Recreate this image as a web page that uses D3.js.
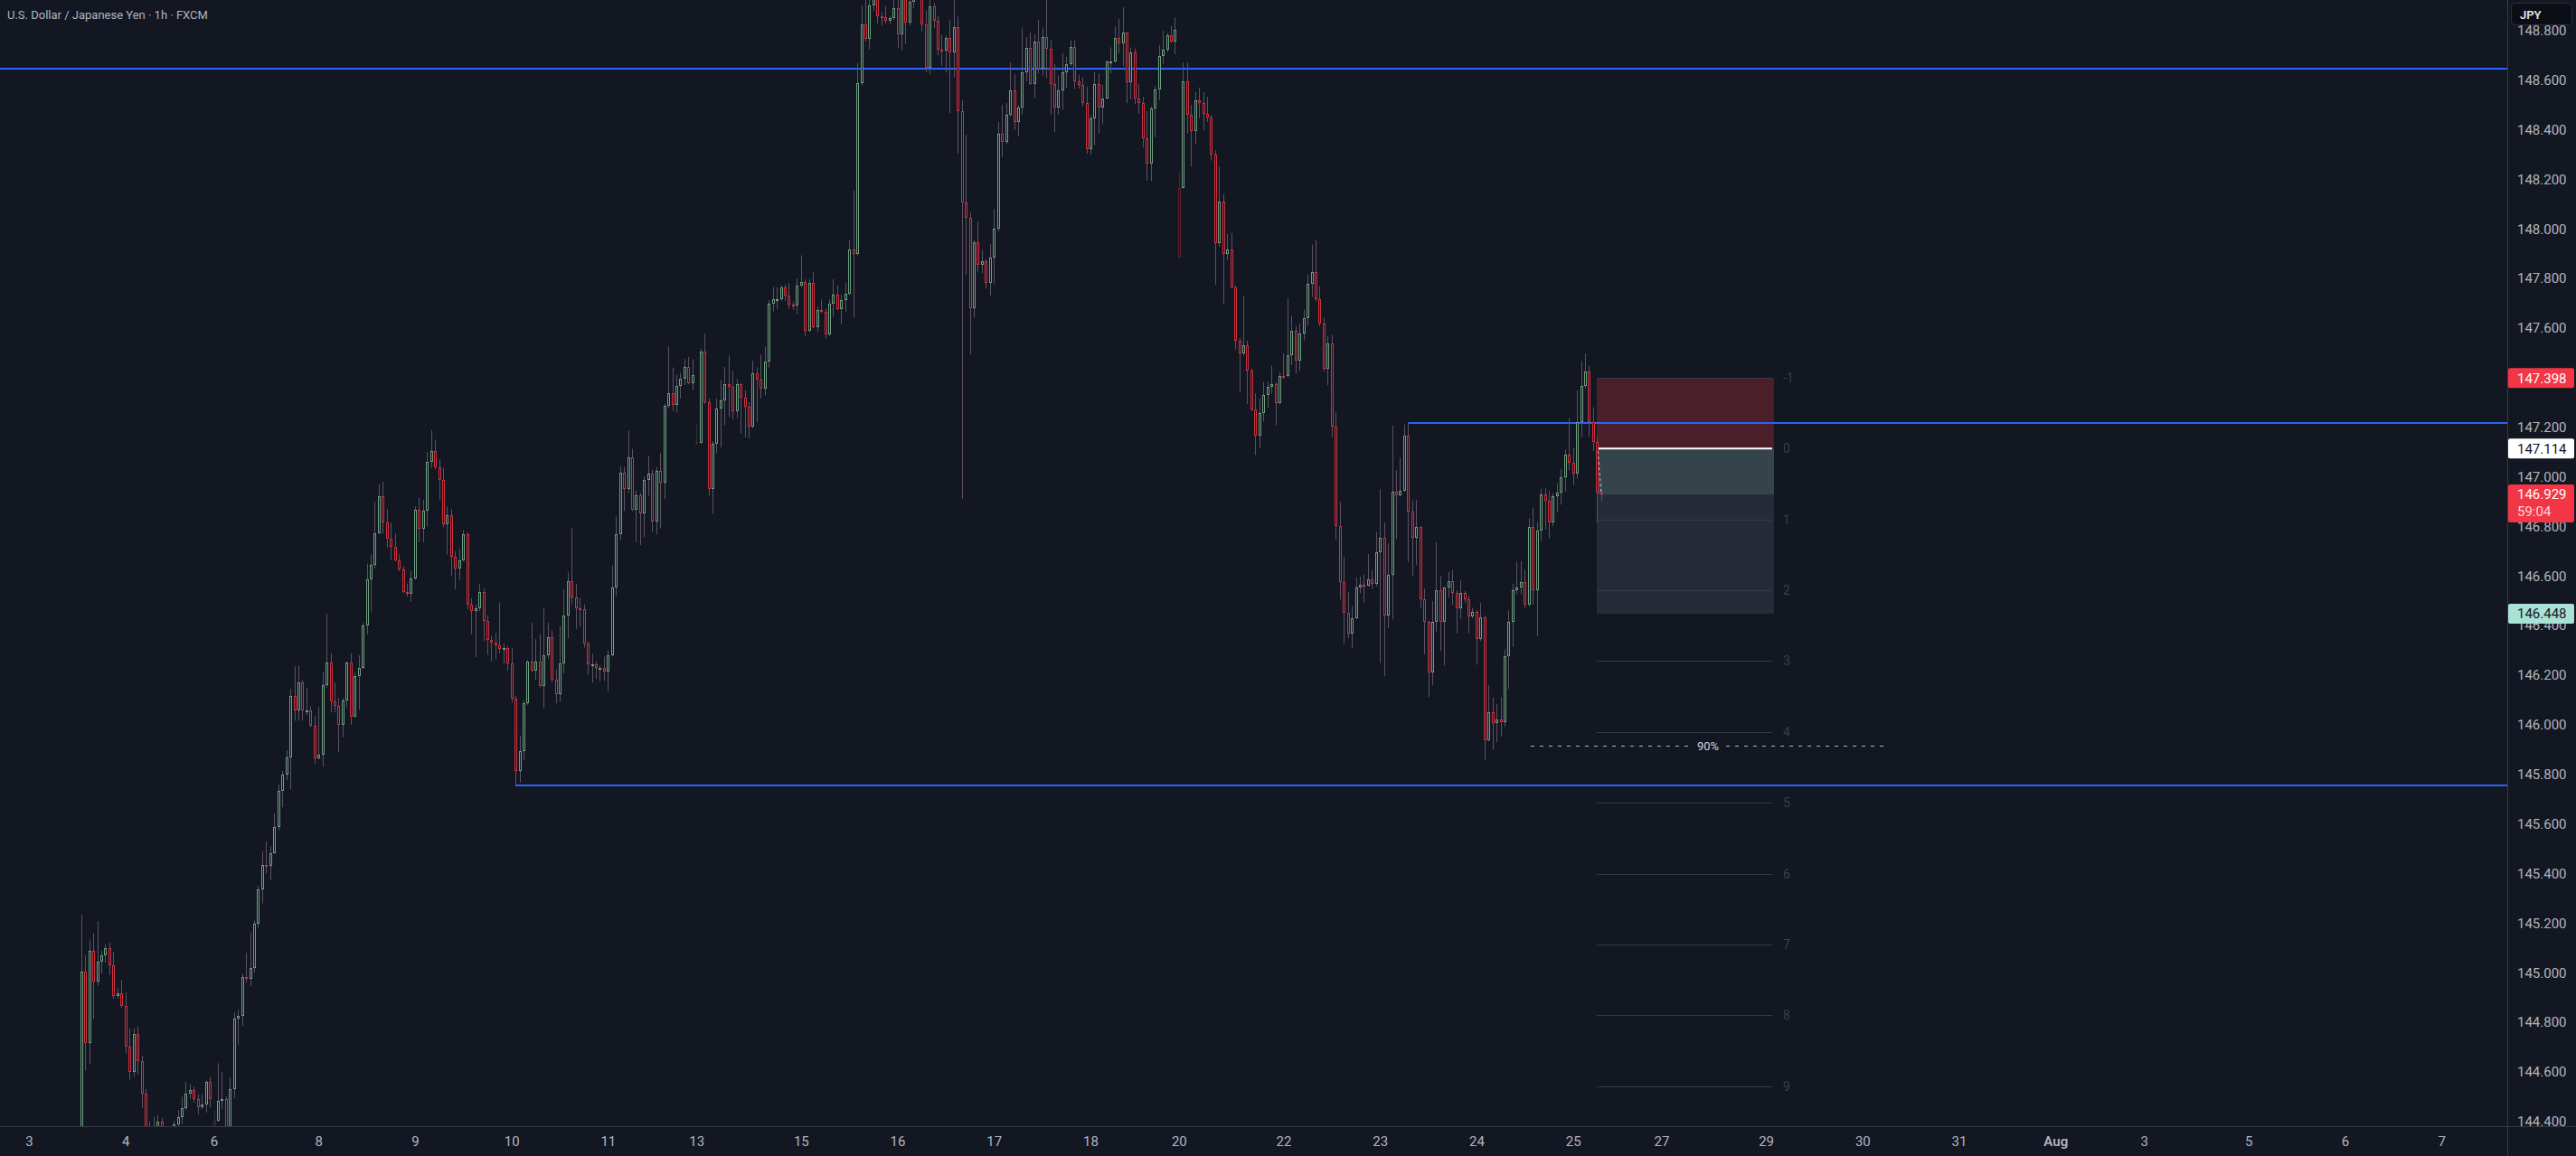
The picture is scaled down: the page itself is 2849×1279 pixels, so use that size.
<!DOCTYPE html>
<html>
<head>
<meta charset="utf-8">
<script src="https://cdn.jsdelivr.net/npm/d3@7"></script>
<style>
  html, body { margin: 0; padding: 0; background: #131722; overflow: hidden; }
  svg { display: block; }
  text { font-family: -apple-system, BlinkMacSystemFont, "Trebuchet MS", Roboto, Ubuntu, sans-serif; }
</style>
</head>
<body>
<div id="chart"></div>
<script>
// Hourly USDJPY candles [open, high, low, close], one array per trading day
const jul03 = [[144.28,145.233,144.20,145.006],[145.006,145.07,144.605,144.715],[144.715,145.134,144.631,145.088],[145.088,145.158,144.813,144.965],[144.965,145.208,144.947,145.046],[145.046,145.088,144.997,145.07],[145.07,145.115,145.04,145.10],[145.10,145.12,144.99,145.03],[145.03,145.085,144.895,144.905],[144.905,144.94,144.895,144.918],[144.918,144.97,144.86,144.864]];
const jul04 = [[144.864,144.92,144.675,144.70],[144.70,144.775,144.568,144.598],[144.598,144.776,144.58,144.754],[144.754,144.785,144.592,144.642],[144.642,144.666,144.455,144.513],[144.513,144.53,144.30,144.35],[144.35,144.40,144.25,144.32],[144.32,144.42,144.28,144.36],[144.36,144.427,144.33,144.40],[144.40,144.415,144.33,144.37],[144.37,144.38,144.30,144.34],[144.34,144.38,144.30,144.36],[144.36,144.40,144.33,144.39],[144.39,144.446,144.37,144.418],[144.418,144.50,144.39,144.455],[144.455,144.56,144.445,144.513],[144.513,144.55,144.49,144.525],[144.525,144.54,144.477,144.49],[144.49,144.51,144.43,144.458],[144.458,144.51,144.45,144.47],[144.47,144.565,144.436,144.56],[144.56,144.58,144.455,144.49]];
const jul06 = [[144.403,144.446,144.33,144.36],[144.403,144.635,144.40,144.482]];
const jul07 = [[144.482,144.60,144.45,144.49],[144.49,144.50,144.30,144.36],[144.36,144.578,144.33,144.53],[144.53,144.84,144.495,144.813],[144.813,144.85,144.71,144.826],[144.826,144.997,144.785,144.982],[144.982,145.08,144.96,144.975],[144.975,145.162,144.946,145.018],[145.018,145.21,145.0,145.197],[145.197,145.35,145.18,145.336],[145.336,145.489,145.28,145.434],[145.434,145.53,145.40,145.43],[145.43,145.51,145.373,145.483],[145.483,145.643,145.48,145.588],[145.588,145.76,145.575,145.735],[145.735,145.814,145.667,145.80],[145.80,145.897,145.777,145.869],[145.869,146.145,145.74,146.115],[146.115,146.236,146.016,146.056],[146.056,146.24,146.016,146.172],[146.172,146.18,146.016,146.056],[146.056,146.15,146.04,146.058],[146.058,146.075,145.99,145.997],[145.997,146.035,145.842,145.865]];
const jul08 = [[145.865,146.071,145.86,145.878],[145.878,146.212,145.832,146.159],[146.159,146.448,146.15,146.251],[146.251,146.288,146.05,146.093],[146.093,146.17,146.05,146.075],[146.075,146.108,145.888,146.001],[146.001,146.108,145.95,146.099],[146.099,146.255,146.07,146.25],[146.25,146.288,146.0,146.034],[146.034,146.21,146.03,146.196],[146.196,146.28,146.06,146.23],[146.23,146.41,146.225,146.402],[146.402,146.65,146.365,146.585],[146.585,146.686,146.457,146.646],[146.646,146.90,146.63,146.773],[146.773,146.97,146.77,146.92],[146.92,146.98,146.77,146.815],[146.815,146.87,146.714,146.751],[146.751,146.815,146.663,146.718],[146.718,146.77,146.66,146.663],[146.663,146.687,146.62,146.626],[146.626,146.64,146.53,146.536],[146.536,146.57,146.516,146.528],[146.528,146.62,146.497,146.589]];
const jul09 = [[146.589,146.88,146.585,146.868],[146.868,146.916,146.736,146.79],[146.79,146.907,146.736,146.865],[146.865,147.10,146.80,147.06],[147.06,147.188,147.035,147.103],[147.103,147.15,147.03,147.04],[147.04,147.07,146.907,146.986],[146.986,147.035,146.797,146.81],[146.81,146.88,146.686,146.846],[146.846,146.87,146.60,146.677],[146.677,146.70,146.545,146.631],[146.631,146.71,146.582,146.663],[146.663,146.784,146.66,146.769],[146.769,146.775,146.466,146.484],[146.484,146.51,146.365,146.457],[146.457,146.485,146.273,146.47],[146.47,146.567,146.457,146.536],[146.536,146.55,146.337,146.417],[146.417,146.44,146.282,146.341],[146.341,146.36,146.255,146.332],[146.332,146.37,146.264,146.32],[146.32,146.494,146.29,146.306],[146.306,146.328,146.246,146.31],[146.31,146.318,146.218,146.246]];
const jul10 = [[146.246,146.31,146.09,146.104],[146.104,146.117,145.759,145.814],[145.814,145.955,145.767,145.892],[145.892,146.097,145.857,146.087],[146.087,146.26,146.08,146.255],[146.255,146.412,146.213,146.219],[146.219,146.345,146.18,146.255],[146.255,146.366,146.15,146.156],[146.156,146.47,146.066,146.282],[146.282,146.412,146.265,146.353],[146.353,146.38,146.17,146.181],[146.181,146.223,146.087,146.125],[146.125,146.397,146.093,146.248],[146.248,146.547,146.206,146.439],[146.439,146.614,146.349,146.579],[146.579,146.792,146.485,146.512],[146.512,146.568,146.386,146.468],[146.468,146.512,146.395,146.466],[146.466,146.485,146.311,146.328],[146.328,146.338,146.202,146.244],[146.244,146.286,146.17,146.244],[146.244,146.255,146.185,146.228],[146.228,146.24,146.175,146.228],[146.228,146.275,146.177,146.213]];
const jul11 = [[146.213,146.3,146.135,146.28],[146.28,146.641,146.275,146.554],[146.554,146.84,146.52,146.767],[146.767,147.043,146.746,147.018],[147.018,147.039,146.861,146.951],[146.951,147.186,146.935,147.077],[147.077,147.113,146.862,146.868],[146.868,146.945,146.736,146.924],[146.924,146.935,146.725,146.851],[146.851,147.002,146.757,146.987],[146.987,147.085,146.924,147.012],[147.012,147.029,146.778,146.82],[146.82,147.039,146.767,147.025],[147.025,147.096,146.792,146.977],[146.977,147.295,146.91,147.286],[147.286,147.527,147.276,147.339],[147.339,147.441,147.265,147.29],[147.29,147.412,147.259,147.368],[147.368,147.42,147.316,147.395],[147.395,147.475,147.37,147.443],[147.443,147.483,147.374,147.378],[147.378,147.475,147.349,147.412]];
const jul13 = [[147.14,147.213,147.13,147.135],[147.135,147.517,147.132,147.506]];
const jul14 = [[147.506,147.577,147.295,147.301],[147.301,147.316,146.924,146.951],[146.951,147.144,146.851,147.133],[147.133,147.316,147.096,147.276],[147.276,147.391,147.119,147.307],[147.307,147.443,147.207,147.374],[147.374,147.489,147.242,147.364],[147.364,147.426,147.232,147.263],[147.263,147.395,147.238,147.374],[147.374,147.378,147.175,147.318],[147.318,147.349,147.159,147.284],[147.284,147.301,147.155,147.203],[147.203,147.468,147.197,147.416],[147.416,147.441,147.221,147.391],[147.391,147.493,147.316,147.357],[147.357,147.525,147.328,147.464],[147.464,147.713,147.441,147.699],[147.699,147.765,147.667,147.715],[147.715,147.765,147.677,147.715],[147.715,147.772,147.71,147.765],[147.765,147.776,147.71,147.73],[147.73,147.782,147.678,147.694],[147.694,147.705,147.673,147.69],[147.69,147.799,147.657,147.772]];
const jul15 = [[147.772,147.893,147.765,147.786],[147.786,147.797,147.567,147.588],[147.588,147.797,147.584,147.782],[147.782,147.828,147.6,147.604],[147.604,147.688,147.584,147.674],[147.674,147.715,147.661,147.667],[147.667,147.678,147.558,147.573],[147.573,147.715,147.567,147.699],[147.699,147.797,147.646,147.736],[147.736,147.772,147.673,147.678],[147.678,147.736,147.615,147.713],[147.713,147.782,147.667,147.74],[147.74,147.954,147.734,147.918],[147.918,148.155,147.642,147.897],[147.897,148.668,147.893,148.588],[148.588,148.902,148.578,148.823],[148.823,148.93,148.756,148.766],[148.766,148.95,148.724,148.90],[148.90,149.05,148.88,148.98],[148.98,149.03,148.828,148.856],[148.856,148.874,148.82,148.853],[148.853,148.899,148.828,148.838],[148.838,148.856,148.826,148.85],[148.85,148.93,148.844,148.889]];
const jul16 = [[148.889,148.95,148.729,148.783],[148.783,149.02,148.72,148.97],[148.97,149.03,148.747,148.832],[148.832,148.95,148.82,148.917],[148.917,149.0,148.89,148.94],[148.94,149.05,148.93,149.0],[149.0,149.02,148.795,148.823],[148.823,148.88,148.631,148.65],[148.65,148.93,148.625,148.896],[148.896,148.91,148.81,148.84],[148.84,148.86,148.70,148.722],[148.722,148.783,148.658,148.72],[148.72,148.78,148.63,148.769],[148.769,148.844,148.467,148.71],[148.71,148.923,148.61,148.814],[148.814,148.856,148.303,148.473],[148.473,148.519,146.911,148.107],[148.107,148.379,147.817,148.046],[148.046,148.065,147.493,147.68],[147.68,147.954,147.642,147.947],[147.947,148.031,147.826,147.855],[147.855,147.916,147.821,147.87],[147.87,147.878,147.76,147.783],[147.783,147.937,147.731,147.884]];
const jul17 = [[147.884,148.08,147.775,148.002],[148.002,148.431,147.989,148.385],[148.385,148.5,148.29,148.351],[148.351,148.507,148.341,148.461],[148.461,148.671,148.45,148.557],[148.557,148.622,148.399,148.431],[148.431,148.5,148.374,148.488],[148.488,148.812,148.461,148.633],[148.633,148.774,148.595,148.728],[148.728,148.793,148.58,148.584],[148.584,148.784,148.526,148.757],[148.757,148.843,148.627,148.646],[148.646,148.812,148.618,148.774],[148.774,148.95,148.608,148.727],[148.727,148.761,148.461,148.585],[148.585,148.666,148.389,148.488],[148.488,148.618,148.46,148.557],[148.557,148.709,148.481,148.631],[148.631,148.694,148.57,148.666],[148.666,148.761,148.656,148.732],[148.732,148.761,148.565,148.595],[148.595,148.62,148.565,148.58],[148.58,148.612,148.494,148.509],[148.509,148.574,148.303,148.322]];
const jul18 = [[148.322,148.46,148.298,148.446],[148.446,148.631,148.338,148.585],[148.585,148.627,148.385,148.488],[148.488,148.58,148.421,148.526],[148.526,148.679,148.522,148.675],[148.675,148.732,148.627,148.675],[148.675,148.818,148.671,148.77],[148.77,148.847,148.709,148.748],[148.748,148.894,148.656,148.79],[148.79,148.793,148.507,148.593],[148.593,148.732,148.523,148.713],[148.713,148.728,148.503,148.526],[148.526,148.584,148.465,148.507],[148.507,148.532,148.328,148.366],[148.366,148.475,148.195,148.265],[148.265,148.494,148.193,148.484],[148.484,148.576,148.37,148.561],[148.561,148.742,148.519,148.698],[148.698,148.8,148.666,148.723],[148.723,148.79,148.713,148.78],[148.78,148.818,148.748,148.755],[148.755,148.852,148.704,148.803]];
const jul20 = [[148.166,148.227,147.88,147.888],[148.166,148.671,148.164,148.595]];
const jul21 = [[148.595,148.671,148.385,148.461],[148.461,148.5,148.252,148.393],[148.393,148.551,148.341,148.519],[148.519,148.57,148.446,148.509],[148.509,148.551,148.399,148.465],[148.465,148.532,148.431,148.45],[148.45,148.458,148.275,148.301],[148.301,148.317,147.775,147.941],[147.941,148.252,147.928,148.109],[148.109,148.141,147.699,147.9],[147.9,147.979,147.874,147.918],[147.918,147.983,147.76,147.764],[147.764,147.773,147.512,147.55],[147.55,147.56,147.34,147.497],[147.497,147.731,147.489,147.531],[147.531,147.55,147.293,147.43],[147.43,147.436,147.264,147.27],[147.27,147.336,147.088,147.165],[147.165,147.315,147.115,147.258],[147.258,147.382,147.222,147.331],[147.331,147.382,147.279,147.363],[147.363,147.449,147.336,147.373],[147.373,147.382,147.207,147.296],[147.296,147.42,147.292,147.407]];
const jul22 = [[147.407,147.497,147.397,147.405],[147.405,147.718,147.401,147.489],[147.489,147.649,147.45,147.588],[147.588,147.607,147.416,147.47],[147.47,147.617,147.426,147.579],[147.579,147.674,147.55,147.64],[147.64,147.817,147.611,147.779],[147.779,147.937,147.725,147.826],[147.826,147.956,147.708,147.716],[147.716,147.769,147.607,147.617],[147.617,147.641,147.426,147.436],[147.436,147.569,147.369,147.537],[147.537,147.573,147.159,147.203],[147.203,147.26,146.745,146.802],[146.802,146.898,146.505,146.577],[146.577,146.677,146.326,146.453],[146.453,146.535,146.349,146.368],[146.368,146.478,146.31,146.429],[146.429,146.593,146.425,146.554],[146.554,146.597,146.53,146.564],[146.564,146.606,146.492,146.562],[146.562,146.688,146.558,146.587],[146.587,146.625,146.549,146.568],[146.568,146.778,146.558,146.696]];
const jul23 = [[146.696,146.949,146.249,146.755],[146.755,146.816,146.196,146.44],[146.44,146.73,146.39,146.606],[146.606,147.207,146.425,146.94],[146.94,147.026,146.749,146.926],[146.926,147.077,146.92,146.945],[146.945,147.211,146.94,147.165],[147.165,147.216,146.657,146.86],[146.86,146.905,146.602,146.755],[146.755,146.906,146.645,146.797],[146.797,146.801,146.472,146.506],[146.506,146.549,146.285,146.415],[146.415,146.419,146.112,146.21],[146.21,146.498,146.16,146.415],[146.415,146.736,146.376,146.542],[146.542,146.6,146.297,146.415],[146.415,146.556,146.239,146.552],[146.552,146.617,146.513,146.578],[146.578,146.625,146.484,146.531],[146.531,146.542,146.369,146.47],[146.47,146.582,146.426,146.531],[146.531,146.539,146.491,146.506],[146.506,146.52,146.369,146.438],[146.438,146.472,146.429,146.455]];
const jul24 = [[146.455,146.462,146.242,146.344],[146.344,146.491,146.337,146.433],[146.433,146.441,145.857,145.936],[145.936,146.16,145.933,146.049],[146.049,146.109,145.9,146.008],[146.008,146.083,145.929,146.02],[146.02,146.112,145.953,146.011],[146.011,146.304,145.991,146.275],[146.275,146.462,146.145,146.415],[146.415,146.57,146.314,146.544],[146.544,146.657,146.527,146.552],[146.552,146.66,146.527,146.575],[146.575,146.625,146.47,146.484],[146.484,146.833,146.477,146.797],[146.797,146.876,146.484,146.544],[146.544,146.818,146.357,146.782],[146.782,146.952,146.741,146.928],[146.928,146.952,146.787,146.905],[146.905,146.942,146.751,146.815],[146.815,146.934,146.801,146.921],[146.921,146.974,146.856,146.938],[146.938,147.032,146.888,146.999],[146.999,147.111,146.941,147.09],[147.09,147.238,147.027,147.056]];
const jul25 = [[147.056,147.118,146.967,147.013],[147.013,147.349,146.993,147.219],[147.219,147.467,147.161,147.366],[147.366,147.497,147.356,147.425],[147.425,147.447,147.161,147.219],[147.219,147.28,147.104,147.14],[147.14,147.162,146.815,146.938],[146.938,146.977,146.902,146.929]];

// first hourly bar of each day, counted in bars from 3 Jul 00:00
const dayStarts = [13, 24, 46, 48, 72, 96, 120, 144, 166, 168, 192, 216, 240, 264, 286, 288, 312, 336, 360, 384];
const dayBars = [jul03, jul04, jul06, jul07, jul08, jul09, jul10, jul11, jul13, jul14, jul15, jul16, jul17, jul18, jul20, jul21, jul22, jul23, jul24, jul25];
const sundayOpenBars = [46, 166, 286];

// time axis
const timeLabels = ["3","4","6","8","9","10","11","13","15","16","17","18","20","22","23","24","25","27","29","30","31","Aug","3","5","6","7"];
const timeBars = [0,24,46,72,96,120,144,166,192,216,240,264,286,312,336,360,384,406,432,456,480,504,526,552,576,600];

// drawings
const hLinePrices = [148.646, 147.217, 145.755];
const hLineStartBars = [null, 343, 121];
const stopPrice = 147.398, entryPrice = 147.114, targetPrice = 146.448, lastPrice = 146.929;
const toolBars = [390, 434];
const fibLevels = [-1, 0, 1, 2, 3, 4, 5, 6, 7, 8, 9];
const fibStep = 0.2858;
const rangePrice = 145.916, rangeBars = [373.5, 461.7], rangeText = "90%";
const countdown = "59:04";
const title = "U.S. Dollar / Japanese Yen · 1h · FXCM";

const candles = [];
dayBars.forEach((bars, d) => bars.forEach((b, k) => {
  const i = dayStarts[d] + k;
  candles.push({ i, o: b[0], h: b[1], l: b[2], c: b[3], dim: sundayOpenBars.includes(i) });
}));

const W = 2849, H = 1279;
const plotRight = 2773, plotBottom = 1246;
const bg = "#131722";
const upColor = "#6e9f80", downColor = "#d1303f", wickColor = "#5c5164";
const axisText = "#b2b5be", axisLine = "#363a45";

const x = d3.scaleLinear().domain([0, 600]).range([32, 32 + 4.447 * 600]);
const y = d3.scaleLinear().domain([144.381, 148.923]).range([plotBottom, 0]);

const svg = d3.select("#chart").append("svg").attr("width", W).attr("height", H);
svg.append("rect").attr("width", W).attr("height", H).attr("fill", bg);

svg.append("defs").append("clipPath").attr("id", "plot")
  .append("rect").attr("width", plotRight).attr("height", plotBottom);

const plot = svg.append("g").attr("clip-path", "url(#plot)");

// position tool
const tx0 = Math.round(x(toolBars[0])), tx1 = Math.round(x(toolBars[1]));
plot.append("rect").attr("x", tx0).attr("width", tx1 - tx0)
  .attr("y", y(stopPrice)).attr("height", y(entryPrice) - y(stopPrice))
  .attr("fill", "rgba(242,54,69,0.25)");
plot.append("rect").attr("x", tx0).attr("width", tx1 - tx0)
  .attr("y", y(entryPrice)).attr("height", y(targetPrice) - y(entryPrice))
  .attr("fill", "#252c37");
plot.append("rect").attr("x", tx0).attr("width", tx1 - tx0)
  .attr("y", y(entryPrice)).attr("height", y(lastPrice) - y(entryPrice))
  .attr("fill", "#35434a");

// fib levels of the risk
fibLevels.forEach(k => {
  const yy = Math.round(y(entryPrice - k * fibStep)) + 0.5;
  if (k !== 0) {
    plot.append("line").attr("x1", tx0).attr("x2", tx1 - 2).attr("y1", yy).attr("y2", yy)
      .attr("stroke", "#363a45").attr("stroke-width", 1);
  }
  plot.append("text").attr("x", tx1 + 10).attr("y", yy).attr("dy", "0.35em")
    .attr("fill", "#3b3f4b").attr("font-size", 14).text(k);
});
plot.append("line").attr("x1", tx0 + 2).attr("x2", tx1 - 2)
  .attr("y1", y(entryPrice)).attr("y2", y(entryPrice))
  .attr("stroke", "#ffffff").attr("stroke-width", 2);

// horizontal levels
hLinePrices.forEach((p, k) => {
  const start = hLineStartBars[k] === null ? 0 : x(hLineStartBars[k]);
  plot.append("line").attr("x1", start).attr("x2", plotRight)
    .attr("y1", y(p)).attr("y2", y(p))
    .attr("stroke", "#2962ff").attr("stroke-width", 2);
});

// candles
const cg = plot.append("g");
candles.forEach(d => {
  const cx = Math.round(x(d.i));
  const up = d.c >= d.o;
  const col = up ? upColor : downColor;
  const g = cg.append("g").attr("opacity", d.dim ? 0.4 : 1);
  const top = Math.round(y(Math.max(d.o, d.c)));
  const bot = Math.round(y(Math.min(d.o, d.c)));
  g.append("line").attr("x1", cx + 0.5).attr("x2", cx + 0.5)
    .attr("y1", y(d.h)).attr("y2", top)
    .attr("stroke", wickColor).attr("stroke-width", 1);
  g.append("line").attr("x1", cx + 0.5).attr("x2", cx + 0.5)
    .attr("y1", bot).attr("y2", y(d.l))
    .attr("stroke", wickColor).attr("stroke-width", 1);
  g.append("rect").attr("x", cx - 0.5).attr("y", top + 0.5)
    .attr("width", 2).attr("height", Math.max(1, bot - top - 1))
    .attr("fill", bg).attr("stroke", col).attr("stroke-width", 1);
});

// dashed move from entry to last price
plot.append("line").attr("x1", x(390) + 1).attr("x2", x(391))
  .attr("y1", y(entryPrice) + 3).attr("y2", y(lastPrice) - 2)
  .attr("stroke", "#c8cad0").attr("stroke-width", 1).attr("stroke-dasharray", "3,3");

// range line with percentage
const ry = Math.round(y(rangePrice)) + 0.5;
const rx0 = x(rangeBars[0]), rx1 = x(rangeBars[1]), rmid = (rx0 + rx1) / 2;
plot.append("line").attr("x1", rx0).attr("x2", rmid - 20).attr("y1", ry).attr("y2", ry)
  .attr("stroke", "#b2b5be").attr("stroke-dasharray", "4,6");
plot.append("line").attr("x1", rmid + 20).attr("x2", rx1).attr("y1", ry).attr("y2", ry)
  .attr("stroke", "#b2b5be").attr("stroke-dasharray", "4,6");
plot.append("text").attr("x", rmid).attr("y", ry).attr("dy", "0.35em")
  .attr("text-anchor", "middle").attr("fill", "#d1d4dc").attr("font-size", 13).text(rangeText);

// axes frame
svg.append("line").attr("x1", plotRight + 0.5).attr("x2", plotRight + 0.5)
  .attr("y1", 0).attr("y2", H).attr("stroke", axisLine);
svg.append("line").attr("x1", 0).attr("x2", W)
  .attr("y1", plotBottom + 0.5).attr("y2", plotBottom + 0.5).attr("stroke", axisLine);

// price axis
const priceTicks = d3.range(0, 23).map(k => +(144.4 + 0.2 * k).toFixed(1)).filter(p => p <= 148.9);
const yAxis = d3.axisRight(y).tickValues(priceTicks).tickSize(0).tickPadding(11)
  .tickFormat(d3.format(".3f"));
const ya = svg.append("g").attr("transform", `translate(${plotRight},0)`).call(yAxis);
ya.select(".domain").remove();
ya.selectAll("text").attr("fill", axisText).attr("font-size", 15)
  .style("font-family", "-apple-system, BlinkMacSystemFont, 'Trebuchet MS', Roboto, Ubuntu, sans-serif");

// time axis
const xAxis = d3.axisBottom(x).tickValues(timeBars).tickSize(0).tickPadding(11)
  .tickFormat((d, k) => timeLabels[k]);
const xa = svg.append("g").attr("transform", `translate(0,${plotBottom})`).call(xAxis);
xa.select(".domain").remove();
xa.selectAll("text").attr("fill", axisText).attr("font-size", 15)
  .style("font-family", "-apple-system, BlinkMacSystemFont, 'Trebuchet MS', Roboto, Ubuntu, sans-serif")
  .attr("font-weight", (d, k) => timeLabels[k] === "Aug" ? 600 : 400);

// price labels on the axis
function priceTag(p, fill, color, extra) {
  const yy = y(p);
  const h = extra ? 42 : 22;
  svg.append("rect").attr("x", plotRight + 1).attr("y", yy - 11).attr("width", 73).attr("height", h)
    .attr("rx", 2).attr("fill", fill);
  svg.append("text").attr("x", plotRight + 11).attr("y", yy).attr("dy", "0.35em")
    .attr("fill", color).attr("font-size", 15).text(d3.format(".3f")(p));
  if (extra) {
    svg.append("text").attr("x", plotRight + 11).attr("y", yy + 19).attr("dy", "0.35em")
      .attr("fill", "rgba(255,255,255,0.8)").attr("font-size", 15).text(extra);
  }
}
priceTag(stopPrice, "#f23645", "#ffffff");
priceTag(entryPrice, "#ffffff", "#131722");
priceTag(targetPrice, "#a9e1d5", "#131722");
priceTag(lastPrice, "#f23645", "#ffffff", countdown);

// currency box
svg.append("rect").attr("x", plotRight + 4.5).attr("y", 3.5).attr("width", 67).attr("height", 24)
  .attr("rx", 4).attr("fill", "#0c0e15").attr("stroke", "#2a2e39");
svg.append("text").attr("x", plotRight + 14).attr("y", 16).attr("dy", "0.35em")
  .attr("fill", "#e0e3eb").attr("font-size", 13).attr("font-weight", 600).text("JPY");

// title
svg.append("text").attr("x", 8).attr("y", 16).attr("dy", "0.35em")
  .attr("fill", axisText).attr("font-size", 13).text(title);
</script>
</body>
</html>
